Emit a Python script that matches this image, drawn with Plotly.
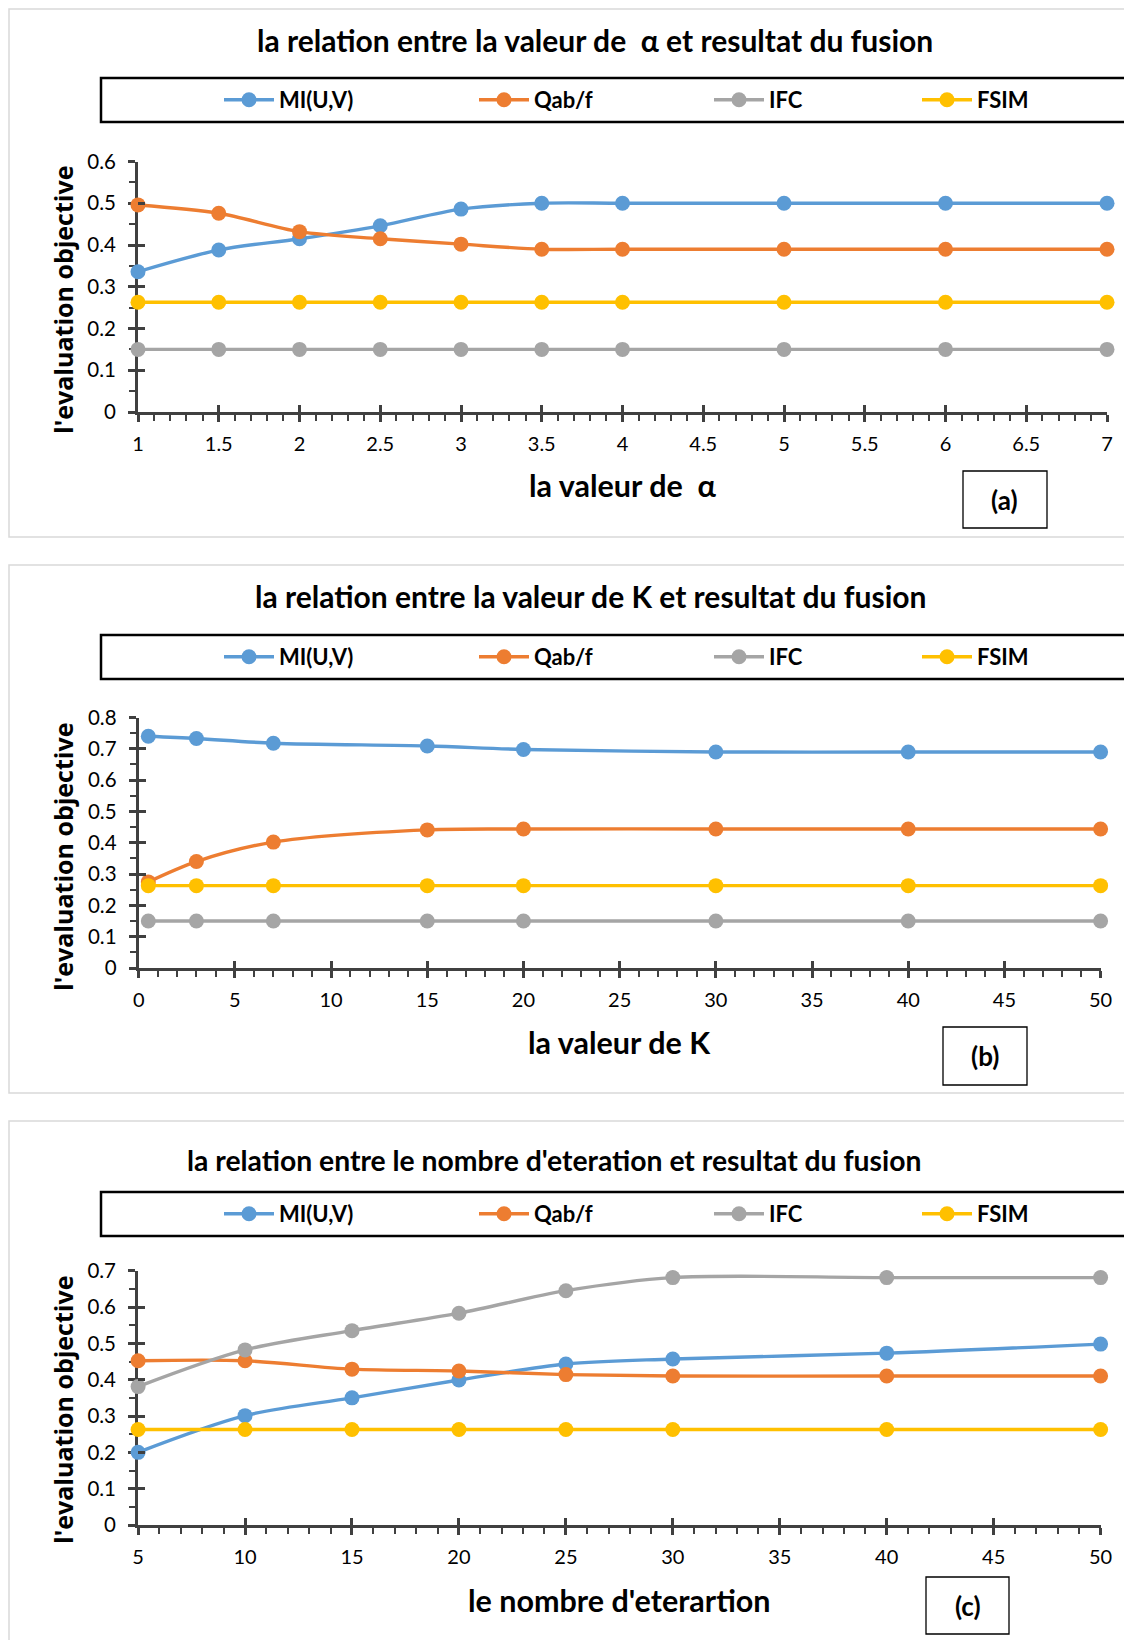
import plotly.graph_objects as go

# ---------------- data ----------------
series_names = ["MI(U,V)", "Qab/f", "IFC", "FSIM"]
series_colors = ["#5B9BD5", "#ED7D31", "#A5A5A5", "#FFC000"]

alpha_vals = [1, 1.5, 2, 2.5, 3, 3.5, 4, 5, 6, 7]
alpha_mi = [0.336, 0.388, 0.415, 0.446, 0.486, 0.500, 0.500, 0.500, 0.500, 0.500]
alpha_qab = [0.496, 0.476, 0.432, 0.415, 0.402, 0.390, 0.390, 0.390, 0.390, 0.390]
alpha_ifc = [0.150, 0.150, 0.150, 0.150, 0.150, 0.150, 0.150, 0.150, 0.150, 0.150]
alpha_fsim = [0.263, 0.263, 0.263, 0.263, 0.263, 0.263, 0.263, 0.263, 0.263, 0.263]

k_vals = [0.5, 3, 7, 15, 20, 30, 40, 50]
k_mi = [0.740, 0.733, 0.718, 0.709, 0.698, 0.690, 0.690, 0.690]
k_qab = [0.275, 0.340, 0.402, 0.441, 0.444, 0.444, 0.444, 0.444]
k_ifc = [0.150, 0.150, 0.150, 0.150, 0.150, 0.150, 0.150, 0.150]
k_fsim = [0.263, 0.263, 0.263, 0.263, 0.263, 0.263, 0.263, 0.263]

iter_vals = [5, 10, 15, 20, 25, 30, 40, 50]
iter_mi = [0.200, 0.301, 0.350, 0.399, 0.443, 0.457, 0.473, 0.498]
iter_qab = [0.452, 0.452, 0.429, 0.424, 0.414, 0.410, 0.410, 0.410]
iter_ifc = [0.381, 0.482, 0.535, 0.583, 0.645, 0.681, 0.681, 0.681]
iter_fsim = [0.263, 0.263, 0.263, 0.263, 0.263, 0.263, 0.263, 0.263]

titles = [
    "la relation entre la valeur de \u00a0\u03b1 et resultat du fusion",
    "la relation entre la valeur de K et resultat du fusion",
    "la relation entre le nombre d'eteration et resultat du fusion",
]
x_titles = ["la valeur de \u00a0\u03b1", "la valeur de K", "le nombre d'eterartion"]
y_title = "l'evaluation objective"
panel_tags = ["(a)", "(b)", "(c)"]

# ---------------- layout helpers ----------------
# the page body adds an 8px margin, so the figure is made 8px smaller
# and all page-pixel positions are shifted by that offset
OFF = 8
W, H = 1132 - OFF, 1640 - OFF
def px(x):
    return (x - OFF) / W
def py(y):
    return 1 - (y - OFF) / H

AX = "#404040"
FONT = "Lato"

panels = [
    dict(x=alpha_vals, ys=[alpha_mi, alpha_qab, alpha_ifc, alpha_fsim],
         xr=[1, 7], xd=0.5, xm=0.1, x0=1, yr=[0, 0.6],
         plot_x=(138, 1107), plot_y=(161.5, 412),
         frame=(9, 537), legend_y=(78, 122), title_y=40, xt_y=485,
         ytitle_c=300, tag_box=(963, 471, 1047, 528), title_c=595,
         title_size=30),
    dict(x=k_vals, ys=[k_mi, k_qab, k_ifc, k_fsim],
         xr=[0, 50], xd=5, xm=1, x0=0, yr=[0, 0.8],
         plot_x=(138.7, 1100.6), plot_y=(717.5, 968),
         frame=(565, 1093), legend_y=(635, 679), title_y=596, xt_y=1042,
         ytitle_c=857, tag_box=(943, 1027, 1027, 1085), title_c=590,
         title_size=30),
    dict(x=iter_vals, ys=[iter_mi, iter_qab, iter_ifc, iter_fsim],
         xr=[5, 50], xd=5, xm=1, x0=5, yr=[0, 0.7],
         plot_x=(138.1, 1100.6), plot_y=(1270.7, 1525),
         frame=(1121, 1700), legend_y=(1192, 1236), title_y=1160, xt_y=1600,
         ytitle_c=1410, tag_box=(926, 1577, 1009, 1634), title_c=554,
         title_size=28.3),
]

# left pixel of each legend entry (symbol start)
legend_item_x = [219, 474, 709, 917]
ITEMW = 50

fig = go.Figure()
layout = dict(
    width=W, height=H,
    margin=dict(l=0, r=0, t=0, b=0, pad=0, autoexpand=False),
    paper_bgcolor="white", plot_bgcolor="rgba(0,0,0,0)",
    font=dict(family=FONT, color="#000000"),
    showlegend=True,
)
shapes = []
annotations = []
leg_idx = 0

for i, p in enumerate(panels):
    n = i + 1
    sx = "" if n == 1 else str(n)
    ox = str(n + 3)
    ly0, ly1 = p["legend_y"]

    for j, (name, color, yv) in enumerate(zip(series_names, series_colors, p["ys"])):
        leg_idx += 1
        legend_name = "legend" if leg_idx == 1 else f"legend{leg_idx}"
        fig.add_trace(go.Scatter(
            x=p["x"], y=yv, name=name, mode="lines+markers",
            line=dict(color=color, width=3.4, shape="spline", smoothing=0.9),
            marker=dict(color=color, size=15),
            xaxis="x" + sx, yaxis="y" + sx, cliponaxis=False,
            legend=legend_name, hoverinfo="skip",
        ))
        layout[legend_name] = dict(
            orientation="h", x=px(legend_item_x[j]), xanchor="left",
            y=py((ly0 + ly1) / 2), yanchor="middle",
            itemwidth=ITEMW,
            font=dict(size=22, family=FONT, weight="bold", color="#000000"),
            bgcolor="rgba(0,0,0,0)", borderwidth=0, itemclick=False,
            itemdoubleclick=False,
        )
    # dummy trace for overlay (cross-tick) axes
    fig.add_trace(go.Scatter(x=[None], y=[None], xaxis="x" + ox, yaxis="y" + ox,
                             showlegend=False, hoverinfo="skip"))

    xdom = [px(p["plot_x"][0]), px(p["plot_x"][1])]
    ydom = [py(p["plot_y"][1]), py(p["plot_y"][0])]

    layout["xaxis" + sx] = dict(
        domain=xdom, range=p["xr"], anchor="y" + sx,
        showline=True, linecolor=AX, linewidth=3,
        ticks="outside", ticklen=7, tickwidth=2.5, tickcolor=AX,
        tick0=p["x0"], dtick=p["xd"],
        minor=dict(ticks="outside", ticklen=6, tickwidth=2, tickcolor=AX,
                   tick0=p["x0"], dtick=p["xm"], showgrid=False),
        showgrid=False, zeroline=False, layer="below traces",
        tickfont=dict(size=20, color="#000000"), ticklabelstandoff=5,
        fixedrange=True,
    )
    layout["yaxis" + sx] = dict(
        domain=ydom, range=p["yr"], anchor="x" + sx,
        showline=True, linecolor=AX, linewidth=3,
        ticks="outside", ticklen=7, tickwidth=2.5, tickcolor=AX,
        tick0=0, dtick=0.1,
        minor=dict(ticks="outside", ticklen=6, tickwidth=2, tickcolor=AX,
                   tick0=0, dtick=0.05, showgrid=False),
        showgrid=False, zeroline=False, layer="below traces",
        tickfont=dict(size=20.5, color="#000000"), ticklabelstandoff=8,
        fixedrange=True,
    )
    # overlay axes for the inner half of the crossing major ticks
    layout["xaxis" + ox] = dict(
        overlaying="x" + sx, anchor="y" + ox, range=p["xr"], side="bottom",
        ticks="inside", ticklen=7, tickwidth=2.5, tickcolor=AX,
        tick0=p["x0"], dtick=p["xd"], showticklabels=False,
        showline=False, showgrid=False, zeroline=False, fixedrange=True,
    )
    layout["yaxis" + ox] = dict(
        overlaying="y" + sx, anchor="x" + ox, range=p["yr"], side="left",
        ticks="inside", ticklen=7, tickwidth=2.5, tickcolor=AX,
        tick0=0, dtick=0.1, showticklabels=False,
        showline=False, showgrid=False, zeroline=False, fixedrange=True,
    )

    # chart frame
    f0, f1 = p["frame"]
    shapes.append(dict(type="rect", xref="paper", yref="paper",
                       x0=px(9), x1=px(1160), y0=py(f1), y1=py(f0),
                       line=dict(color="#D9D9D9", width=1.5), layer="below"))
    # legend box
    shapes.append(dict(type="rect", xref="paper", yref="paper",
                       x0=px(101), x1=px(1160), y0=py(ly1), y1=py(ly0),
                       line=dict(color="#000000", width=2.5), layer="below"))
    # tag box
    tx0, ty0, tx1, ty1 = p["tag_box"]
    shapes.append(dict(type="rect", xref="paper", yref="paper",
                       x0=px(tx0), x1=px(tx1), y0=py(ty1), y1=py(ty0),
                       line=dict(color="#000000", width=1.3), layer="below"))
    annotations.append(dict(text=panel_tags[i], xref="paper", yref="paper",
                            x=px((tx0 + tx1) / 2), y=py((ty0 + ty1) / 2),
                            showarrow=False, xanchor="center", yanchor="middle",
                            font=dict(size=26, family=FONT, weight="bold")))
    # title
    annotations.append(dict(text=titles[i], xref="paper", yref="paper",
                            x=px(p["title_c"]), y=py(p["title_y"]),
                            showarrow=False, xanchor="center", yanchor="middle",
                            font=dict(size=p["title_size"], family=FONT,
                                      weight="bold")))
    # x title
    annotations.append(dict(text=x_titles[i], xref="paper", yref="paper",
                            x=px((p["plot_x"][0] + p["plot_x"][1]) / 2),
                            y=py(p["xt_y"]),
                            showarrow=False, xanchor="center", yanchor="middle",
                            font=dict(size=30.5, family=FONT, weight="bold")))
    # y title
    annotations.append(dict(text=y_title, xref="paper", yref="paper",
                            x=px(63), y=py(p["ytitle_c"]), textangle=-90,
                            showarrow=False, xanchor="center", yanchor="middle",
                            font=dict(size=25, family="Open Sans", weight="bold")))

layout["shapes"] = shapes
layout["annotations"] = annotations
fig.update_layout(**layout)

fig.write_html("out.html")
